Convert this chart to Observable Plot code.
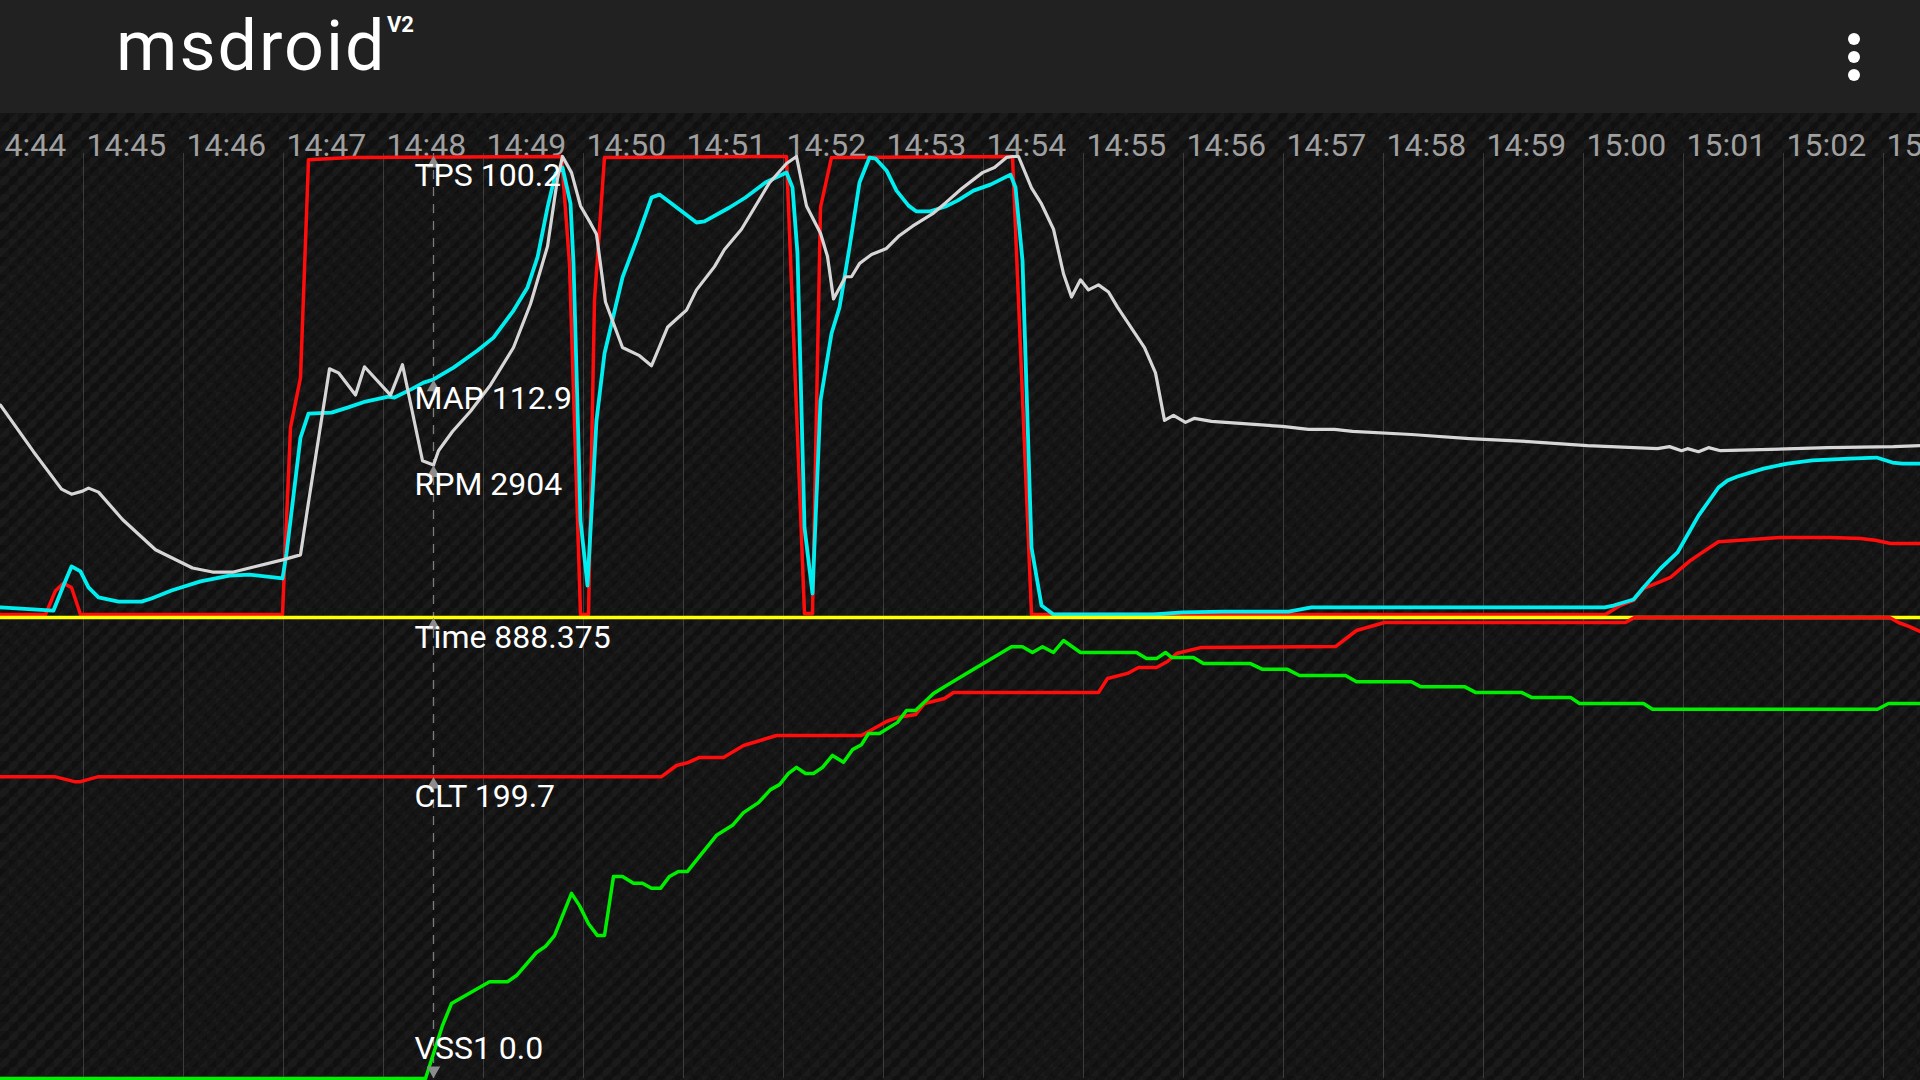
<!DOCTYPE html>
<html>
<head>
<meta charset="utf-8">
<script src="https://cdn.jsdelivr.net/npm/d3@7"></script>
<script src="https://cdn.jsdelivr.net/npm/@observablehq/plot@0.6"></script>
<style>
  html, body { margin: 0; padding: 0; width: 1920px; height: 1080px; overflow: hidden; background: #111; font-family: Roboto, "Noto Sans", sans-serif; }
  #header { position: absolute; left: 0; top: 0; width: 1920px; height: 113px; background: #212121; }
  #chart {
    position: absolute; left: 0; top: 113px; width: 1920px; height: 967px; overflow: hidden;
    background-color: #111111;
    background-image:
      repeating-linear-gradient(135deg, rgba(255,255,255,0.018) 0 6px, rgba(0,0,0,0.08) 6px 12px),
      linear-gradient(45deg, rgba(255,255,255,0.018) 25%, transparent 25%, transparent 75%, rgba(255,255,255,0.018) 75%),
      linear-gradient(45deg, rgba(255,255,255,0.018) 25%, transparent 25%, transparent 75%, rgba(255,255,255,0.018) 75%);
    background-size: auto, 18px 18px, 18px 18px;
    background-position: 0 0, 0 0, 9px 9px;
  }
  #chart svg { display: block; overflow: hidden; }
</style>
</head>
<body>
<div id="header">
  <svg width="1920" height="113" style="display:block">
    <text x="116" y="70" fill="#ffffff" font-family="Roboto" font-size="70" letter-spacing="2">msdroid</text>
    <text x="387" y="32" fill="#ffffff" font-family="Roboto" font-weight="700" font-size="22">V2</text>
    <circle cx="1854" cy="39" r="6" fill="#ffffff"></circle>
    <circle cx="1854" cy="57" r="6" fill="#ffffff"></circle>
    <circle cx="1854" cy="75" r="6" fill="#ffffff"></circle>
  </svg>
</div>
<div id="chart"></div>
<script>
// ---------------- data (time = seconds after 14:44:00) ----------------
const tickLabels = ["14:44","14:45","14:46","14:47","14:48","14:49","14:50","14:51","14:52","14:53",
                    "14:54","14:55","14:56","14:57","14:58","14:59","15:00","15:01","15:02","15:03","15:04"];

const tpsLog = [[10.2,0],[37.2,0],[43.2,5.2],[48.0,6.8],[52.8,5.9],[58.2,0],[179.4,0],[184.2,40.8],[190.2,51.7],
  [195.0,99.3],[220.2,99.8],[346.8,100.2],[351.6,76.6],[358.2,0],[363.0,0],[366.6,68.6],[372.6,99.8],[481.8,100.2],
  [492.6,0.2],[497.4,0.2],[502.2,88.9],[508.8,99.8],[617.4,100.2],[628.8,0],[973.2,0],[982.2,2.0],[990.0,3.1],
  [996.0,5.7],[1006.2,7.2],[1012.2,8.1],[1016.4,9.4],[1024.2,11.8],[1030.2,13.3],[1041.0,15.9],[1054.2,16.2],
  [1078.2,16.8],[1108.2,16.8],[1126.2,16.6],[1135.2,16.2],[1144.2,15.5],[1162.2,15.5]];

const mapLog = [[10.2,3.4],[42.0,1.9],[48.0,13.9],[52.8,23.1],[58.2,20.7],[63.0,13.0],[69.0,8.2],[81.0,6.2],[94.8,6.2],
  [100.8,7.7],[112.8,11.5],[130.2,15.9],[147.6,18.7],[159.6,19.2],[179.4,17.3],[181.8,29.3],[190.2,85.0],[195.0,96.5],
  [208.8,97.0],[218.4,99.4],[229.2,102.3],[243.0,104.7],[246.6,104.2],[257.4,108.5],[264.0,111.4],[270.0,112.9],
  [282.0,118.6],[296.4,126.8],[306.0,133.0],[318.0,146.0],[326.4,157.1],[332.4,171.5],[338.4,195.5],[340.8,203.6],
  [343.2,211.8],[347.4,214.7],[352.2,197.4],[354.0,168.6],[356.4,99.4],[358.2,45.1],[362.4,13.9],[367.8,93.2],
  [372.6,125.4],[383.4,161.9],[392.4,181.1],[400.8,200.3],[405.6,201.7],[412.8,197.4],[427.8,188.3],[432.6,188.8],
  [447.6,195.5],[457.2,200.3],[469.2,207.5],[481.8,212.3],[485.4,205.1],[488.4,173.4],[492.6,41.8],[497.4,10.1],
  [502.2,102.8],[508.8,135.0],[513.6,147.5],[519.6,176.3],[525.6,207.5],[531.6,219.5],[535.2,219.0],[541.8,213.3],
  [547.8,203.6],[555.0,196.4],[559.8,193.6],[567.6,193.6],[577.2,196.0],[584.4,198.8],[594.0,203.6],[604.2,206.5],
  [616.2,211.3],[619.2,205.1],[623.4,170.0],[628.8,32.2],[634.8,4.3],[642.0,0],[702.0,0],[719.4,1.0],[744.0,1.4],
  [783.0,1.4],[796.8,3.4],[972.6,3.4],[978.0,4.3],[990.0,7.2],[996.0,13.0],[1006.2,22.1],[1016.4,29.8],[1029.0,47.5],
  [1041.0,61.0],[1046.4,64.4],[1052.4,66.3],[1068.0,70.1],[1082.4,72.5],[1097.4,74.0],[1119.6,74.9],[1135.8,75.4],
  [1145.4,73.0],[1151.4,72.5],[1162.2,72.5]];

const rpmLog = [[10.2,4068],[30.0,3164],[46.8,2437],[52.8,2338],[59.4,2397],[63.0,2456],[69.0,2378],[83.4,1847],
  [103.2,1258],[125.4,904],[137.4,825],[150.0,825],[162.0,924],[179.4,1061],[190.2,1159],[195.0,2181],[207.6,4775],
  [213.0,4696],[223.2,4264],[228.6,4814],[244.2,4264],[251.4,4854],[263.4,2987],[270.0,2904],[273.0,3183],[281.4,3557],
  [292.2,3950],[304.2,4461],[318.0,5188],[328.2,6033],[338.4,7153],[344.4,8469],[347.4,8960],[352.8,8587],[358.2,7939],
  [364.2,7605],[367.8,7388],[373.2,6072],[383.4,5188],[393.6,5030],[400.8,4834],[410.4,5581],[417.0,5777],[421.8,5915],
  [427.8,6308],[438.6,6760],[444.6,7094],[454.8,7487],[463.2,7939],[471.6,8391],[481.8,8764],[487.8,8990],[493.8,7939],
  [502.2,7408],[506.4,6956],[510.0,6131],[517.2,6563],[520.8,6563],[525.6,6819],[532.8,6995],[541.8,7113],[549.0,7349],
  [557.4,7546],[570.0,7801],[577.2,7998],[586.8,8273],[599.4,8587],[606.6,8685],[613.8,8882],[617.4,9000],[621.0,8921],
  [628.8,8292],[634.8,7978],[642.0,7487],[648.0,6622],[652.8,6170],[658.2,6504],[663.0,6308],[669.0,6406],[675.0,6268],
  [680.4,5974],[696.6,5188],[703.2,4696],[708.6,3773],[714.0,3871],[721.2,3734],[726.6,3812],[736.8,3753],[779.4,3655],
  [795.0,3596],[810.6,3596],[821.4,3557],[856.8,3498],[891.6,3419],[927.0,3360],[962.4,3282],[1004.4,3223],[1011.6,3262],
  [1018.8,3183],[1022.4,3223],[1029.0,3164],[1035.0,3242],[1042.2,3183],[1066.2,3203],[1106.4,3242],[1146.0,3262],
  [1162.2,3282]];

const cltLog = [[10.2,199.7],[42.6,199.7],[54.6,196.4],[58.2,196.4],[69.0,199.7],[406.8,199.7],[415.8,207.1],
  [423.0,209.1],[429.6,212.4],[444.0,212.4],[456.0,220.3],[475.8,226.9],[526.8,226.9],[541.8,236.2],[548.4,238.8],
  [559.2,240.8],[564.6,248.1],[576.6,251.4],[582.0,255.4],[669.0,255.4],[674.4,264.6],[686.4,268.0],[693.0,271.9],
  [703.8,271.9],[710.4,275.9],[715.8,281.2],[730.2,285.1],[811.2,285.8],[823.8,296.4],[840.6,301.7],[985.2,301.7],
  [990.6,305.0],[1143.6,305.0],[1149.0,301.7],[1155.6,299.0],[1162.2,295.7]];

const vssLog = [[10.2,0],[265.2,0],[275.4,13.8],[280.8,19.5],[303.6,25.2],[314.4,25.2],[319.8,26.8],[331.8,32.8],
  [337.2,34.4],[342.6,37.2],[352.8,48.2],[357.6,45.0],[363.0,40.3],[368.4,37.2],[372.6,37.2],[378.0,52.6],[383.4,52.6],
  [390.0,50.8],[395.4,50.8],[400.8,49.5],[406.2,49.5],[411.6,52.6],[417.0,53.9],[422.4,53.9],[429.0,57.5],[439.8,63.3],
  [449.4,65.9],[456.0,69.2],[465.0,71.8],[472.2,75.2],[477.6,76.5],[483.0,79.4],[487.8,81.0],[493.2,79.4],[498.0,79.4],
  [503.4,81.0],[509.4,84.1],[516.0,82.3],[521.4,85.6],[526.8,86.9],[531.0,89.8],[537.6,89.8],[548.4,92.7],[553.8,95.8],
  [559.2,95.8],[570.0,100.2],[577.8,102.3],[592.8,106.2],[616.8,112.4],[623.4,112.4],[629.4,110.9],[635.4,112.4],
  [642.0,110.9],[648.0,114.0],[658.2,110.9],[691.8,110.9],[697.8,109.3],[703.8,109.3],[709.2,110.9],[712.8,109.6],
  [726.0,109.6],[732.0,108.0],[760.2,108.0],[767.4,106.5],[782.4,106.5],[789.6,104.9],[817.2,104.9],[823.8,103.3],
  [856.8,103.3],[862.2,102.0],[888.6,102.0],[895.2,100.5],[922.8,100.5],[928.8,99.2],[952.2,99.2],[957.6,97.6],
  [996.0,97.6],[1001.4,96.1],[1136.4,96.1],[1143.0,97.6],[1162.2,97.6]];

// cursor readout
const cursorSec = 270;
const cursorNames  = ["TPS", "MAP", "RPM", "Time", "CLT", "VSS1"];
const cursorValues = [100.2, 112.9, 2904, 888.375, 199.7, 0.0];
const cursorDigits = [1, 1, 0, 3, 1, 1];

// gauge ranges (min, max) for each track
const gaugeMin = {TPS: 0, MAP: 0, RPM: 0, CLT: 0, VSS1: 0};
const gaugeMax = {TPS: 100, MAP: 220, RPM: 8900, CLT: 305, VSS1: 120};
const gaugeBand = {TPS: "top", MAP: "top", RPM: "top", Time: "bottom", CLT: "bottom", VSS1: "bottom"};

// ---------------- layout / style ----------------
const bands = {top: [0.50325, 1.0], bottom: [0.0, 0.5]};
const colors = {TPS: "#ff0d0d", MAP: "#00eef0", RPM: "#d6d6d6", Time: "#ffff00", CLT: "#ff0d0d", VSS1: "#00ee00"};
const widths = {TPS: 3.5, MAP: 3.8, RPM: 3.2, Time: 3.6, CLT: 3.5, VSS1: 3.5};

const base = Date.UTC(2016, 0, 1, 14, 44, 0);
const toDate = s => new Date(base + s * 1000);
const toU = (name, v) => {
  const [lo, hi] = bands[gaugeBand[name]];
  if (name === "Time") return hi;
  const f = (v - gaugeMin[name]) / (gaugeMax[name] - gaugeMin[name]);
  return lo + f * (hi - lo);
};
const rows = (name, log) => log.map(([s, v]) => ({time: toDate(s), u: toU(name, Math.min(v, gaugeMax[name]))}));

const tickDates = tickLabels.map(l => { const [h, m] = l.split(":").map(Number); return new Date(Date.UTC(2016, 0, 1, h, m, 0)); });
const cursorDate = toDate(cursorSec);
const cursorRows = cursorNames.map((n, i) => ({
  time: cursorDate,
  u: toU(n, cursorValues[i]),
  label: `${n} ${cursorValues[i].toFixed(cursorDigits[i])}`,
  bottom: toU(n, cursorValues[i]) <= 0.001
}));
const upRows = cursorRows.filter(d => !d.bottom);
const downRows = cursorRows.filter(d => d.bottom);

const line = (name, log) => Plot.line(rows(name, log), {x: "time", y: "u", stroke: colors[name], strokeWidth: widths[name], strokeLinejoin: "round"});

const chart = Plot.plot({
  width: 1920,
  height: 967,
  marginTop: 40,
  marginBottom: 2,
  marginLeft: 0,
  marginRight: 0,
  style: {background: "transparent", fontFamily: "Roboto", overflow: "hidden"},
  x: {type: "utc", domain: [tickDates[0], tickDates[tickDates.length - 1]], range: [-17, 1983]},
  y: {domain: [0, 1], range: [965, 43], axis: null},
  marks: [
    Plot.gridX({ticks: tickDates, stroke: "#6a6a6a", strokeOpacity: 0.45, strokeWidth: 1}),
    Plot.axisX({ticks: tickDates, anchor: "top", tickSize: 0, tickPadding: 0, dy: 2, dx: 3, textAnchor: "start",
                fontSize: 32, fill: "#a0a0a0", tickFormat: d3.utcFormat("%H:%M"), label: null}),
    Plot.ruleX([cursorDate], {stroke: "#7c7c7c", strokeWidth: 1.3, strokeDasharray: "9,8"}),
    line("TPS", tpsLog),
    line("MAP", mapLog),
    line("RPM", rpmLog),
    Plot.ruleY([toU("Time", cursorValues[3])], {stroke: colors.Time, strokeWidth: widths.Time}),
    line("CLT", cltLog),
    line("VSS1", vssLog),
    Plot.dot(upRows, {x: "time", y: "u", symbol: "triangle", r: 5, fill: "#8c8c8c", dy: 8}),
    Plot.dot(downRows, {x: "time", y: "u", symbol: "triangle", r: 5, fill: "#8c8c8c", rotate: 180, dy: -8}),
    Plot.text(upRows, {x: "time", y: "u", text: "label", textAnchor: "start", lineAnchor: "bottom", dx: -19, dy: 30, fill: "#ffffff", fontSize: 32}),
    Plot.text(downRows, {x: "time", y: "u", text: "label", textAnchor: "start", lineAnchor: "bottom", dx: -19, dy: -20, fill: "#ffffff", fontSize: 32})
  ]
});
document.getElementById("chart").appendChild(chart);
</script>
</body>
</html>
